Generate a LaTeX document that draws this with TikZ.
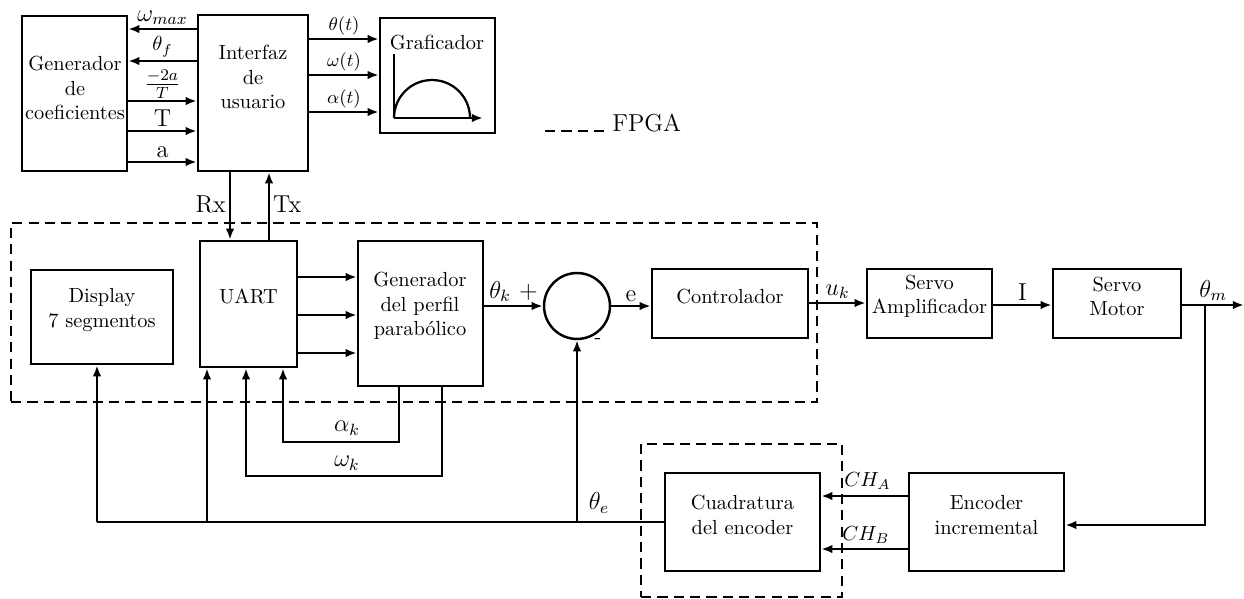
\documentclass[tikz,border=0pt]{standalone}
\usetikzlibrary{arrows.meta,fit}
\begin{document}
\begin{tikzpicture}[x=0.49pt,y=-0.49pt,
  box/.style={draw,line width=1.2pt,inner sep=0pt,align=center},
  arr/.style={line width=1.1pt,-{Latex[length=5.5pt,width=4.2pt]}},
  ln/.style={line width=1.1pt},
  dbox/.style={draw,line width=1.1pt,dash pattern=on 5pt off 3pt},
  lbl/.style={inner sep=1.5pt},
  txt/.style={align=center,inner sep=0pt}]
\useasboundingbox (0,0) rectangle (1244,598);

% dashed regions
\node[dbox,inner sep=0pt,fit={(11,223)(817,402)}] (fpgabox) {};
\node[dbox,inner sep=0pt,fit={(641,444)(842,597)}] (cuadbox) {};

% boxes
\node[box,fit={(22,16)(127,171)}] (gc) {};
\node[txt] (gct) at (75,88) {Generador\\de\\coeficientes};
\node[box,fit={(198,15)(308,171)}] (ui) {};
\node[txt] (uit) at (253,77) {Interfaz\\de\\usuario};
\node[box,fit={(380,18)(495,133)}] (gr) {};
\node[txt] (grt) at (437,43) {Graficador};
\node[box,fit={(31,270)(173,364)}] (disp) {Display\\7 segmentos};
\node[box,fit={(200,241)(297,367)}] (uart) {UART};
\node[box,fit={(358,241)(483,386)}] (gp) {};
\node[txt] (gpt) at (420,306) {Generador\\del perfil\\parab\'olico};
\node[draw,circle,line width=1.2pt,minimum size=32.3pt,inner sep=0pt] (sum) at (577,306) {};
\node[box,fit={(652,269)(808,338)}] (ctrl) {Controlador};
\node[box,fit={(867,269)(992,338)}] (amp) {Servo\\Amplificador};
\node[box,fit={(1053,269)(1181,338)}] (mot) {Servo\\Motor};
\node[box,fit={(665,473)(820,571)}] (cuad) {Cuadratura\\del encoder};
\node[box,fit={(909,473)(1064,571)}] (enc) {Encoder\\incremental};

% graficador icon
\coordinate (g0) at (394,118);
\draw[ln] (394,54) -- (g0);
\draw[arr] (g0) -- (483,118);
\draw[ln] (g0) arc[start angle=180,end angle=0,radius=18.62pt];

% legend
\coordinate (lg0) at (545,131);
\node[anchor=base west,inner sep=1pt] (fpga) at (610,131) {\large FPGA};
\draw[line width=1.1pt,dash pattern=on 5pt off 3pt] (lg0) -- (fpga.base west);

% gc <-> ui
\draw[arr] (ui.west |- 0,29) -- (gc.east |- 0,29) node[midway,above,lbl]{\large$\omega_{max}$};
\draw[arr] (ui.west |- 0,61) -- (gc.east |- 0,61) node[midway,above,lbl]{$\theta_f$};
\draw[arr] (gc.east |- 0,101) -- (ui.west |- 0,101) node[midway,above,lbl,inner sep=0.5pt]{\large$\frac{-2a}{T}$};
\draw[arr] (gc.east |- 0,131) -- (ui.west |- 0,131) node[midway,above,lbl]{\large T};
\draw[arr] (gc.east |- 0,162) -- (ui.west |- 0,162) node[midway,above,lbl]{\large a};

% ui -> gr
\draw[arr] (ui.east |- 0,39) -- (gr.west |- 0,39) node[midway,above,lbl]{\small$\theta(t)$};
\draw[arr] (ui.east |- 0,75) -- (gr.west |- 0,75) node[midway,above,lbl]{\small$\omega(t)$};
\draw[arr] (ui.east |- 0,112) -- (gr.west |- 0,112) node[midway,above,lbl]{\small$\alpha(t)$};

% Rx Tx
\draw[arr] (ui.south -| 230,0) -- (uart.north -| 230,0) node[pos=0.48,left,lbl]{\large Rx};
\draw[arr] (uart.north -| 269,0) -- (ui.south -| 269,0) node[pos=0.52,right,lbl]{\large Tx};

% uart -> gp
\draw[arr] (uart.east |- 0,277) -- (gp.west |- 0,277);
\draw[arr] (uart.east |- 0,315) -- (gp.west |- 0,315);
\draw[arr] (uart.east |- 0,353) -- (gp.west |- 0,353);

% forward path
\draw[arr] (gp.east |- sum.west) -- (sum.west) node[midway,above,lbl]{\large$\theta_k$\,\,$+$};
\draw[arr] (sum.east) -- (ctrl.west |- sum.east) node[midway,above,lbl]{\large e};
\draw[arr] (ctrl.east |- 0,303) -- (amp.west |- 0,303) node[midway,above,lbl]{\large$u_k$};
\draw[arr] (amp.east |- 0,305) -- (mot.west |- 0,305) node[midway,above,lbl]{\large I};
\coordinate (out) at (1244,305);
\draw[arr] (mot.east |- out) -- (out) node[midway,above,lbl]{\large$\theta_m$};
\node[inner sep=0pt] (minus) at (598,341) {-};

% feedback
\coordinate (fb) at (1205,305);
\draw[arr] (fb) |- (enc.east |- 0,525);
\draw[arr] (enc.west |- 0,496) -- (cuad.east |- 0,496);
\draw[arr] (enc.west |- 0,549) -- (cuad.east |- 0,549);
\node[anchor=west,inner sep=1pt] (cha) at (842,481) {$CH_A$};
\node[anchor=west,inner sep=1pt] (chb) at (840,535) {$CH_B$};

\coordinate (fl) at (97,522);
\coordinate (fs) at (577,522);
\coordinate (fu) at (207,522);
\draw[ln] (cuad.west |- fl) -- (fl);
\draw[arr] (fl) -- (disp.south -| fl);
\draw[arr] (fu) -- (uart.south -| fu);
\draw[arr] (fs) -- (sum.south);
\node[inner sep=0pt] (the) at (599,503) {\large$\theta_e$};

% alpha, omega loops
\coordinate (ak) at (399,442);
\coordinate (wk) at (442,476);
\draw[arr] (gp.south -| ak) -- (ak) -- (283,442) -- (uart.south -| 283,0);
\draw[arr] (gp.south -| wk) -- (wk) -- (246,476) -- (uart.south -| 246,0);
\node[inner sep=0pt] (akl) at (347,428) {\large$\alpha_k$};
\node[inner sep=0pt] (wkl) at (347,463) {\large$\omega_k$};
\end{tikzpicture}
\end{document}
